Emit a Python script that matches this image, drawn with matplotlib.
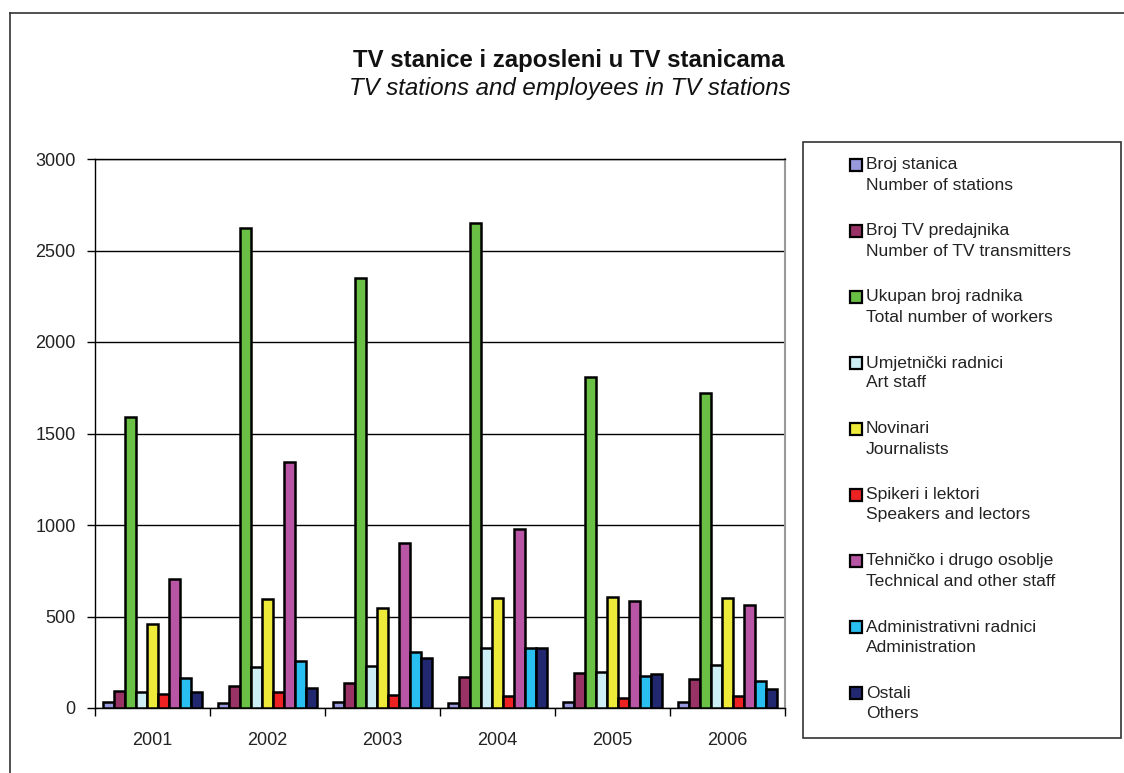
import matplotlib
matplotlib.use("Agg")
import matplotlib.pyplot as plt
from matplotlib.patches import Rectangle
from matplotlib.lines import Line2D
import numpy as np

plt.rcParams['font.family'] = ['Liberation Sans', 'DejaVu Sans']

years = ["2001", "2002", "2003", "2004", "2005", "2006"]
series_local = ["Broj stanica", "Broj TV predajnika", "Ukupan broj radnika",
                "Umjetnički radnici", "Novinari", "Spikeri i lektori",
                "Tehničko i drugo osoblje", "Administrativni radnici", "Ostali"]
series_en = ["Number of stations", "Number of TV transmitters", "Total number of workers",
             "Art staff", "Journalists", "Speakers and lectors",
             "Technical and other staff", "Administration", "Others"]

stations      = [35, 30, 33, 30, 33, 31]
transmitters  = [93, 118, 137, 169, 191, 156]
total_workers = [1588, 2625, 2352, 2650, 1811, 1723]
art_staff     = [89, 225, 231, 328, 195, 235]
journalists   = [460, 596, 546, 603, 604, 599]
speakers      = [77, 88, 71, 63, 53, 64]
technical     = [706, 1342, 903, 980, 585, 562]
administration= [162, 255, 308, 328, 176, 145]
others        = [88, 109, 273, 328, 184, 104]

series_values = [stations, transmitters, total_workers, art_staff, journalists,
                 speakers, technical, administration, others]
colors = ["#9999dd", "#993366", "#6abf45", "#cdeef4", "#eeea3a",
          "#ee2222", "#b855a4", "#29bff0", "#222870"]

W, H = 1124, 773
fig = plt.figure(figsize=(W / 100, H / 100), dpi=100)

def fx(px):
    return px / W

def fy(py):
    return 1 - py / H

ax = fig.add_axes([fx(95), fy(708), fx(785) - fx(95), fy(159) - fy(708)])

n = len(series_values)
group_w = 0.867
bw = group_w / n
x = np.arange(len(years)) + 0.5
for i, (vals, c) in enumerate(zip(series_values, colors)):
    offs = -group_w / 2 + bw * (i + 0.5)
    ax.bar(x + offs, vals, width=bw, color=c, edgecolor="black", linewidth=1.8, zorder=3)

ax.set_xlim(0, len(years))
ax.set_ylim(0, 3000)
ax.set_yticks(np.arange(0, 3001, 500))
ax.yaxis.grid(True, color="black", linewidth=1.0, zorder=0)
ax.set_xticks(x)
ax.set_xticklabels(years)
ax.set_xticks(np.arange(0, len(years) + 1), minor=True)
ax.tick_params(axis="x", which="major", length=0, pad=17, labelsize=13, labelcolor="#222222")
ax.tick_params(axis="x", which="minor", length=6, width=1, color="black")
ax.tick_params(axis="y", length=6, width=1, pad=8, labelsize=13, labelcolor="#222222")
for s in ["left", "bottom", "top"]:
    ax.spines[s].set_color("black")
    ax.spines[s].set_linewidth(1.0)
ax.spines["right"].set_color("#999999")
ax.spines["right"].set_linewidth(1.5)

# Titles
fig.text(fx(569), fy(60), "TV stanice i zaposleni u TV stanicama", ha="center", va="center",
         fontsize=17.3, fontweight="bold", color="#111111")
fig.text(fx(570), fy(88), "TV stations and employees in TV stations", ha="center", va="center",
         fontsize=17.3, fontstyle="italic", color="#111111")

# Outer frame
fig.add_artist(Line2D([fx(10), 1], [fy(13), fy(13)], color="#333333", lw=1.2))
fig.add_artist(Line2D([fx(10), fx(10)], [fy(13), 0], color="#333333", lw=1.2))

# Legend box
fig.add_artist(Rectangle((fx(803), fy(738)), fx(1121) - fx(803), fy(142) - fy(738),
                         fill=False, edgecolor="#333333", lw=1.2))
for i in range(n):
    ycen = 165 + 66 * i
    fig.add_artist(Rectangle((fx(850), fy(ycen + 6)), fx(12), 12 / H,
                             facecolor=colors[i], edgecolor="black", lw=1.6))
    fig.text(fx(866), fy(ycen), series_local[i], ha="left", va="center", fontsize=12.6,
             color="#222222")
    fig.text(fx(866), fy(ycen + 20), series_en[i], ha="left", va="center", fontsize=12.6,
             color="#222222")

fig.savefig("out.png", dpi=100)
